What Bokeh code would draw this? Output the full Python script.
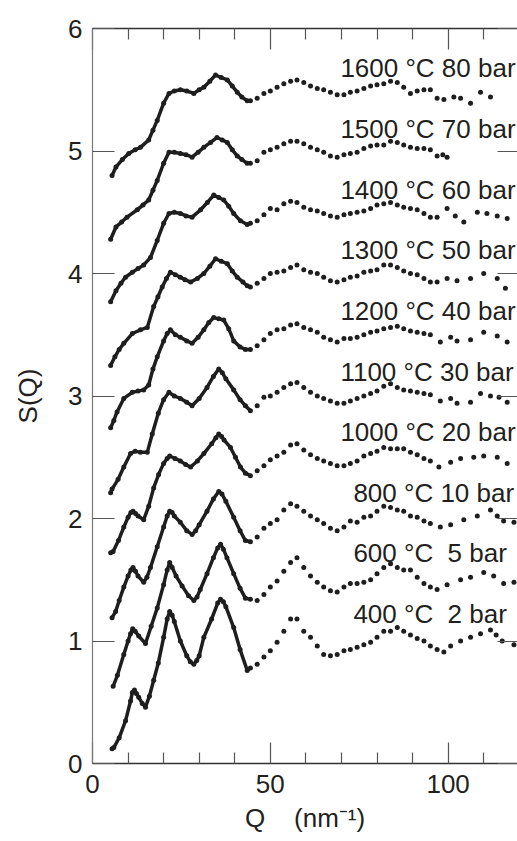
from bokeh.plotting import figure
from bokeh.models import LinearAxis, FixedTicker, ColumnDataSource, Range1d
from bokeh.embed import file_html
from bokeh.resources import INLINE
from bokeh.core.properties import value

# ---------------- data ----------------
temperatures = [400, 600, 800, 1000, 1100, 1200, 1300, 1400, 1500, 1600]
pressures = [2, 5, 10, 20, 30, 40, 50, 60, 70, 80]

# Q grid read at the middle of the pattern (shared by every curve)
q_mid = [44.4, 46.3, 48.2, 50.0, 51.9, 53.8, 55.7, 57.5, 59.4, 61.3, 63.2, 65.0, 66.9, 68.8,
         70.7, 72.5, 74.4, 76.3, 78.2, 80.0, 81.9, 83.8, 85.7, 87.5, 89.4, 91.3, 93.2, 95.0]

# 400 °C
q400_low = [5.5, 6.0, 7.5, 9.3, 10.7, 11.2, 11.8, 12.4, 13.0, 14.0, 14.9, 16.0, 17.2, 18.5, 20.0, 21.0, 21.7, 22.4, 23.0,
            24.7, 26.5, 27.5, 28.5, 29.3, 30.0, 31.3, 33.5, 35.2, 36.0, 36.8, 37.5, 39.7, 41.5, 43.5]
s400_low = [0.12, 0.13, 0.21, 0.35, 0.51, 0.58, 0.60, 0.57, 0.54, 0.49, 0.46, 0.55, 0.68, 0.82, 1.03, 1.18, 1.24, 1.21, 1.16,
            1.00, 0.88, 0.83, 0.81, 0.84, 0.88, 1.03, 1.18, 1.31, 1.34, 1.32, 1.28, 1.11, 0.93, 0.76]
s400_mid = [0.78, 0.81, 0.87, 0.92, 0.99, 1.08, 1.18, 1.18, 1.08, 1.03, 0.96, 0.89, 0.88, 0.89,
            0.92, 0.93, 0.95, 0.97, 0.99, 1.03, 1.08, 1.08, 1.11, 1.08, 1.05, 1.02, 1.00, 0.96]
q400_high = [96.9, 98.8, 100.7, 103.5, 106.3, 109.1, 111.9, 113.5, 115.2, 118.5]
s400_high = [0.93, 0.91, 0.96, 1.00, 1.03, 1.06, 1.09, 1.05, 1.00, 0.97]

# 600 °C
q600_low = [5.8, 7.0, 8.8, 10.0, 10.7, 11.3, 12.0, 13.0, 14.9, 16.5, 18.2, 20.0, 21.0, 21.7, 22.4, 23.5, 25.2, 27.0, 28.5,
            29.4, 30.3, 32.2, 34.0, 35.2, 36.0, 36.8, 37.8, 39.7, 41.5, 43.0]
s600_low = [0.63, 0.72, 0.89, 1.00, 1.06, 1.10, 1.08, 1.04, 0.98, 1.12, 1.27, 1.46, 1.58, 1.64, 1.60, 1.53, 1.45, 1.37, 1.33,
            1.36, 1.42, 1.55, 1.68, 1.76, 1.79, 1.75, 1.68, 1.55, 1.43, 1.35]
s600_mid = [1.34, 1.33, 1.38, 1.44, 1.49, 1.57, 1.64, 1.68, 1.60, 1.53, 1.48, 1.44, 1.41, 1.40,
            1.44, 1.47, 1.47, 1.48, 1.50, 1.55, 1.60, 1.63, 1.60, 1.58, 1.58, 1.52, 1.47, 1.44]
q600_high = [96.9, 99.7, 103.5, 106.3, 110.0, 112.8, 115.6, 118.5]
s600_high = [1.42, 1.46, 1.50, 1.52, 1.56, 1.53, 1.47, 1.48]

# 800 °C
q800_low = [5.5, 6.5, 7.5, 8.8, 10.0, 10.8, 11.4, 12.1, 12.8, 14.4, 15.3, 16.3, 18.2, 20.0, 21.0, 21.7, 22.4, 23.0, 24.7,
            26.5, 28.0, 29.0, 30.0, 32.2, 34.0, 35.5, 36.4, 37.5, 39.7, 41.5, 43.0]
s800_low = [1.19, 1.24, 1.33, 1.44, 1.53, 1.58, 1.60, 1.57, 1.53, 1.48, 1.52, 1.60, 1.77, 1.93, 2.02, 2.06, 2.05, 2.02, 1.97,
            1.90, 1.87, 1.90, 1.95, 2.06, 2.16, 2.22, 2.20, 2.14, 2.01, 1.90, 1.82]
s800_mid = [1.81, 1.85, 1.92, 1.96, 1.99, 2.07, 2.12, 2.10, 2.06, 2.02, 1.99, 1.96, 1.92, 1.90,
            1.93, 1.98, 1.97, 2.01, 2.02, 2.06, 2.10, 2.09, 2.07, 2.06, 2.02, 2.01, 1.98, 1.96]
q800_high = [97.8, 100.7, 104.4, 108.2, 111.9, 113.8, 115.6, 118.5]
s800_high = [1.93, 1.95, 1.99, 2.02, 2.07, 2.02, 1.98, 1.97]

# 1000 °C
q1000_low = [5.1, 5.8, 7.3, 8.8, 10.0, 10.8, 11.4, 12.1, 12.8, 14.4, 15.8, 17.2, 18.6, 20.0, 21.0, 21.7, 23.2, 24.7, 26.2,
             27.6, 29.5, 31.3, 33.5, 34.7, 35.5, 36.3, 37.0, 38.8, 40.2, 41.6, 43.0]
s1000_low = [1.72, 1.73, 1.82, 1.93, 2.01, 2.05, 2.06, 2.04, 2.02, 1.99, 2.10, 2.25, 2.36, 2.45, 2.49, 2.51, 2.49, 2.47, 2.44,
             2.42, 2.47, 2.53, 2.61, 2.66, 2.69, 2.67, 2.64, 2.58, 2.50, 2.42, 2.37]
s1000_mid = [2.35, 2.39, 2.43, 2.48, 2.51, 2.54, 2.60, 2.61, 2.56, 2.52, 2.49, 2.47, 2.45, 2.43,
             2.43, 2.45, 2.47, 2.51, 2.53, 2.55, 2.58, 2.57, 2.57, 2.57, 2.54, 2.52, 2.49, 2.47]
q1000_high = [97.4, 100.7, 103.5, 107.2, 110.0, 113.8, 116.6]
s1000_high = [2.42, 2.46, 2.49, 2.50, 2.51, 2.50, 2.45]

# 1100 °C
q1100_low = [5.1, 5.5, 7.2, 8.8, 10.7, 12.0, 13.5, 15.4, 16.8, 18.5, 20.0, 21.5, 23.0, 24.7, 26.5, 28.0, 30.0, 32.2, 34.0,
             35.5, 36.5, 37.5, 39.7, 41.5, 43.0]
s1100_low = [2.21, 2.24, 2.32, 2.42, 2.53, 2.55, 2.54, 2.54, 2.69, 2.86, 2.97, 3.03, 3.00, 2.98, 2.95, 2.92, 2.98, 3.07, 3.16,
             3.22, 3.19, 3.14, 3.05, 2.97, 2.92]
s1100_mid = [2.88, 2.92, 2.99, 3.00, 3.03, 3.07, 3.10, 3.11, 3.07, 3.03, 3.00, 2.98, 2.96, 2.94,
             2.94, 2.96, 2.98, 3.00, 3.02, 3.04, 3.08, 3.10, 3.07, 3.05, 3.04, 3.03, 3.02, 3.01]
q1100_high = [97.8, 100.7, 102.5, 106.3, 109.1, 111.9, 114.3, 116.6]
s1100_high = [2.96, 2.98, 2.94, 2.95, 3.02, 3.00, 2.99, 2.95]

# 1200 °C
q1200_low = [5.1, 6.0, 6.9, 8.8, 11.2, 12.8, 14.4, 15.8, 17.0, 18.2, 20.0, 21.0, 21.9, 23.3, 24.7, 26.5, 28.0, 29.7, 31.3,
             32.7, 34.1, 35.5, 36.9, 38.3, 39.7, 41.5, 43.0]
s1200_low = [2.74, 2.80, 2.87, 2.98, 3.03, 3.04, 3.05, 3.09, 3.22, 3.32, 3.45, 3.51, 3.54, 3.50, 3.48, 3.45, 3.43, 3.48, 3.54,
             3.60, 3.64, 3.63, 3.62, 3.55, 3.45, 3.40, 3.38]
s1200_mid = [3.38, 3.41, 3.46, 3.51, 3.54, 3.55, 3.58, 3.59, 3.56, 3.54, 3.52, 3.48, 3.46, 3.44,
             3.47, 3.47, 3.48, 3.50, 3.52, 3.53, 3.55, 3.56, 3.57, 3.55, 3.53, 3.52, 3.51, 3.50]
q1200_high = [97.8, 100.7, 102.5, 106.3, 110.0, 113.8, 116.6]
s1200_high = [3.44, 3.48, 3.45, 3.46, 3.52, 3.49, 3.44]

# 1300 °C
q1300_low = [5.1, 6.3, 7.5, 8.8, 11.2, 13.5, 15.4, 17.2, 18.4, 19.6, 20.8, 21.9, 23.3, 24.7, 26.0, 27.6, 29.5, 31.3, 33.0,
             34.6, 36.2, 37.9, 39.3, 40.7, 42.3, 43.5]
s1300_low = [3.25, 3.32, 3.38, 3.43, 3.51, 3.54, 3.56, 3.73, 3.81, 3.89, 3.96, 4.01, 3.99, 3.97, 3.95, 3.93, 3.96, 4.00, 4.06,
             4.12, 4.10, 4.08, 4.02, 3.97, 3.93, 3.90]
s1300_mid = [3.89, 3.92, 3.96, 4.00, 4.01, 4.02, 4.05, 4.07, 4.03, 4.01, 4.00, 3.97, 3.94, 3.93,
             3.95, 3.97, 3.98, 4.01, 4.02, 4.03, 4.07, 4.07, 4.05, 4.02, 4.00, 3.99, 3.96, 3.93]
q1300_high = [96.9, 99.7, 102.5, 106.3, 110.0, 113.8, 116.1]
s1300_high = [3.93, 3.96, 3.94, 3.96, 4.00, 3.96, 3.88]

# 1400 °C
q1400_low = [5.1, 6.6, 8.0, 9.3, 11.2, 12.8, 14.4, 16.3, 18.2, 20.0, 21.5, 23.0, 24.7, 26.3, 28.0, 30.4, 32.3, 34.1, 35.5,
             36.9, 38.3, 39.7, 41.6, 43.5]
s1400_low = [3.77, 3.86, 3.92, 3.97, 4.01, 4.04, 4.07, 4.13, 4.27, 4.41, 4.49, 4.50, 4.49, 4.47, 4.46, 4.52, 4.58, 4.64, 4.62,
             4.60, 4.55, 4.49, 4.43, 4.40]
s1400_mid = [4.41, 4.43, 4.48, 4.53, 4.52, 4.57, 4.59, 4.58, 4.54, 4.52, 4.51, 4.49, 4.47, 4.46,
             4.48, 4.49, 4.50, 4.51, 4.53, 4.56, 4.57, 4.58, 4.56, 4.54, 4.53, 4.52, 4.49, 4.46]
q1400_high = [96.9, 99.7, 102.0, 104.4, 108.2, 110.9, 113.8, 116.6]
s1400_high = [4.46, 4.53, 4.47, 4.42, 4.50, 4.49, 4.47, 4.45]

# 1500 °C
q1500_low = [5.1, 6.6, 8.2, 9.7, 12.6, 14.2, 15.8, 17.0, 18.2, 20.0, 21.5, 23.0, 24.7, 26.3, 28.0, 29.7, 31.3, 33.2, 35.0,
             36.5, 37.9, 39.3, 40.7, 42.0, 43.5]
s1500_low = [4.28, 4.38, 4.42, 4.46, 4.52, 4.56, 4.60, 4.68, 4.76, 4.90, 4.99, 4.99, 4.98, 4.97, 4.95, 4.99, 5.03, 5.07, 5.11,
             5.09, 5.07, 5.01, 4.96, 4.93, 4.90]
s1500_mid = [4.90, 4.92, 4.99, 5.01, 5.03, 5.06, 5.08, 5.08, 5.06, 5.03, 5.01, 4.99, 4.96, 4.95,
             4.97, 4.98, 4.99, 5.02, 5.04, 5.05, 5.05, 5.08, 5.07, 5.05, 5.03, 5.02, 5.02, 5.01]
q1500_high = [96.9, 98.5, 99.7]
s1500_high = [4.96, 4.97, 4.95]

# 1600 °C
q1600_low = [5.5, 6.6, 8.4, 10.2, 12.0, 13.5, 15.8, 17.0, 18.2, 20.0, 21.5, 23.0, 24.7, 26.5, 28.5, 30.0, 31.3, 33.0, 34.6,
             36.2, 37.9, 39.3, 40.7, 42.0, 43.5]
s1600_low = [4.80, 4.87, 4.93, 4.98, 5.01, 5.03, 5.09, 5.17, 5.25, 5.39, 5.47, 5.49, 5.50, 5.49, 5.47, 5.50, 5.52, 5.57, 5.62,
             5.60, 5.58, 5.53, 5.48, 5.44, 5.41]
s1600_mid = [5.41, 5.43, 5.47, 5.49, 5.52, 5.55, 5.57, 5.58, 5.56, 5.53, 5.51, 5.50, 5.48, 5.46,
             5.46, 5.48, 5.49, 5.51, 5.53, 5.54, 5.55, 5.57, 5.56, 5.52, 5.47, 5.49, 5.50, 5.50]
q1600_high = [96.9, 98.8, 101.6, 103.5, 106.3, 109.1, 111.9]
s1600_high = [5.43, 5.42, 5.44, 5.43, 5.39, 5.48, 5.44]

curves = [
    (q400_low, s400_low, s400_mid, q400_high, s400_high),
    (q600_low, s600_low, s600_mid, q600_high, s600_high),
    (q800_low, s800_low, s800_mid, q800_high, s800_high),
    (q1000_low, s1000_low, s1000_mid, q1000_high, s1000_high),
    (q1100_low, s1100_low, s1100_mid, q1100_high, s1100_high),
    (q1200_low, s1200_low, s1200_mid, q1200_high, s1200_high),
    (q1300_low, s1300_low, s1300_mid, q1300_high, s1300_high),
    (q1400_low, s1400_low, s1400_mid, q1400_high, s1400_high),
    (q1500_low, s1500_low, s1500_mid, q1500_high, s1500_high),
    (q1600_low, s1600_low, s1600_mid, q1600_high, s1600_high),
]

x_ticks = [0, 50, 100]
x_minor = [10, 20, 30, 40, 60, 70, 80, 90, 110]
y_ticks = [0, 1, 2, 3, 4, 5, 6]

# ---------------- styling ----------------
FONT = "Liberation Sans"
INK = "#231f20"
DOT = "#1e1e1e"
FS = "26px"

p = figure(width=517, height=841, output_backend="svg", toolbar_location=None,
           x_range=Range1d(0, 119.5), y_range=Range1d(0, 6),
           x_axis_location=None, y_axis_location=None,
           min_border_left=92, min_border_right=0, min_border_top=28, min_border_bottom=78)
p.outline_line_color = None
p.xgrid.visible = False
p.ygrid.visible = False
p.background_fill_color = "white"
p.border_fill_color = "white"

for q_low, s_low, s_mid, q_high, s_high in curves:
    # dense, low-Q part: the measured points merge into a continuous trace
    p.line(q_low + q_mid[:1], s_low + s_mid[:1], line_color=DOT, line_width=3.5, line_join="round")
    q_all = q_low + q_mid + q_high
    s_all = s_low + s_mid + s_high
    p.scatter(q_all, s_all, marker="circle", size=5, fill_color=DOT, line_color=None)

labels = []
for t, pr in zip(temperatures, pressures):
    pad = "\u00a0" * (2 - len(str(pr)))
    labels.append(f"{t} °C {pad}{pr} bar")

label_src = ColumnDataSource(dict(
    x=[69.7] * len(labels),
    y=[1.22 + 0.495 * i for i in range(len(labels))],
    xo=[13 if t < 1000 else 0 for t in temperatures],
    text=labels,
))
p.text(x="x", y="y", text="text", x_offset="xo", source=label_src,
       text_font=value(FONT), text_font_size=FS, text_color=INK,
       text_align="left", text_baseline="middle")

# ---------------- axes ----------------
def style_axis(ax, line_color, line_width):
    ax.axis_line_color = line_color
    ax.axis_line_width = line_width
    ax.major_tick_line_color = "#555555"
    ax.minor_tick_line_color = "#555555"
    ax.major_tick_line_width = 1.2
    ax.minor_tick_line_width = 1.2
    ax.major_tick_out = 0
    ax.minor_tick_out = 0
    ax.major_label_text_font = FONT
    ax.major_label_text_font_size = FS
    ax.major_label_text_color = INK
    ax.axis_label_text_font = FONT
    ax.axis_label_text_font_size = FS
    ax.axis_label_text_color = INK
    ax.axis_label_text_font_style = "normal"

bottom = LinearAxis(ticker=FixedTicker(ticks=x_ticks, minor_ticks=x_minor),
                    axis_label="Q\u00a0\u00a0\u00a0 (nm\u207b\u00b9)")
style_axis(bottom, "#333333", 1.6)
bottom.major_tick_in = 21
bottom.minor_tick_in = 11
bottom.major_label_standoff = 11
bottom.axis_label_standoff = 7
p.add_layout(bottom, "below")

top = LinearAxis(ticker=FixedTicker(ticks=x_ticks, minor_ticks=x_minor))
style_axis(top, "#333333", 1.6)
top.major_tick_in = 21
top.minor_tick_in = 11
top.major_label_text_font_size = "0px"
top.major_label_standoff = 0
top.major_label_text_color = None
p.add_layout(top, "above")

left = LinearAxis(ticker=FixedTicker(ticks=y_ticks, minor_ticks=[]), axis_label="S(Q)")
style_axis(left, "#777777", 1.2)
left.major_tick_in = 22
left.minor_tick_in = 0
left.major_label_standoff = 10
left.axis_label_standoff = 22
p.add_layout(left, "left")

right = LinearAxis(ticker=FixedTicker(ticks=y_ticks, minor_ticks=[]))
style_axis(right, None, 1)
right.major_tick_in = 20
right.minor_tick_in = 0
right.major_label_text_font_size = "0px"
right.major_label_standoff = 0
right.major_label_text_color = None
p.add_layout(right, "right")

open("out.html", "w").write(file_html(p, INLINE))
